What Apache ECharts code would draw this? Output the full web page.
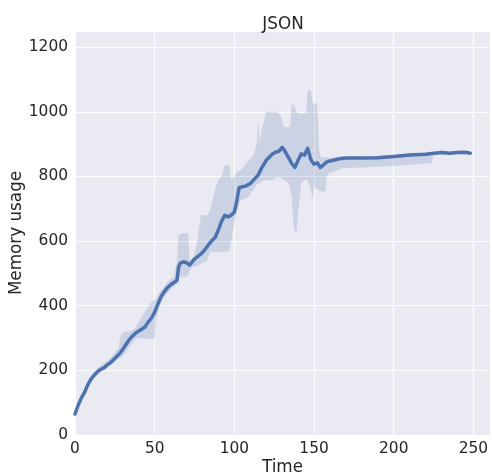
<!DOCTYPE html>
<html>
<head>
<meta charset="utf-8">
<script src="https://cdn.jsdelivr.net/npm/echarts@6/dist/echarts.min.js"></script>
<style>html,body{margin:0;padding:0;background:#fff}#c{width:492px;height:475px}</style>
</head>
<body>
<div id="c"></div>
<script>
// ---- data ----
const titleText = 'JSON';
const xName = 'Time';
const yName = 'Memory usage';
const xTicks = [0, 50, 100, 150, 200, 250];
const yTicks = [0, 200, 400, 600, 800, 1000, 1200];

const meanTime = [0,2,4,6,8,10,12,14,16,17,18,20,22,24,26,28,30,32,34,36,38,39,40,42,44,46,48,50,52,54,56,58,60,62,64,65,66,68,70,72,73,75,77,79,81,84,86,88,90,92,94,96,98,100,101,103,105,107,110,113,115,117,120,122,124,126,128,130,132,134,136,138,139,140,142,144,146,148,150,152,154,156,158,160,163,166,170,180,190,200,210,220,224,225,230,235,240,245,248];
const meanValue = [65,92,115,132,155,172,185,195,203,208,207,216,223,232,242,252,265,280,295,306,315,314,322,328,335,350,362,380,405,428,443,456,465,472,478,520,531,536,533,526,522,545,552,560,570,590,602,612,635,662,680,675,680,690,712,765,768,770,778,794,805,825,850,860,870,875,878,890,876,858,840,828,828,850,870,866,887,852,838,842,828,836,845,848,851,855,857,857,858,862,866,869,871,875,874,872,874,875,872];

const bandTime = [0,3,6,9,12,16,20,24,27,29,30,34,36,38,41,44,47,50,51,53,56,59,62,64,65,67,70,71,72,74,76,79,83,85,88,90,92,94,97,98,100,102,104,106,109,112,114,115,116,117,118,120,124,127,129,131,134,135,136,137,138,139,140,142,144,145,146,148,149,150,152,153,154,157,158,160,163,168,180,190,200,210,220,224,225,230,235,240,245,248];
const bandLow = [58,95,125,160,177,195,208,222,235,240,245,272,285,298,300,298,298,298,360,400,428,445,460,466,490,490,490,495,510,521,521,530,540,567,567,567,567,567,570,600,660,700,727,730,737,760,775,778,780,785,787,788,789,799,795,789,778,760,737,660,629,629,686,778,789,789,789,760,727,768,760,758,755,752,799,812,815,826,828,830,833,836,840,841,875,874,872,874,875,872];
const bandHigh = [72,110,142,178,196,215,228,248,268,312,318,320,325,332,360,382,405,420,422,442,460,478,490,540,619,624,624,624,541,545,580,680,680,700,760,790,800,835,835,790,800,815,820,830,850,865,900,974,900,943,960,1000,1000,1000,990,953,953,953,1026,1020,1016,1000,995,995,995,1000,1067,1067,1026,1026,1026,892,862,858,860,857,860,862,861,862,866,870,873,874,875,874,872,874,875,872];

// ---- chart ----
const chart = echarts.init(document.getElementById('c'), null, {renderer: 'canvas'});
const font = 'DejaVu Sans';
const txt = '#262626';
const meanData = meanTime.map((t, i) => [t, meanValue[i]]);

chart.setOption({
  animation: false,
  backgroundColor: '#ffffff',
  title: {
    text: titleText,
    left: 278,
    textAlign: 'center',
    top: 11,
    textStyle: {fontFamily: font, fontSize: 16.8, fontWeight: 'normal', color: txt}
  },
  grid: {left: 75, right: 2, top: 31, bottom: 40, show: true, backgroundColor: '#eaeaf2', borderWidth: 0,
    containLabel: false, outerBoundsMode: 'none'},
  xAxis: {
    type: 'value', min: 0, max: 260.4, interval: 50,
    name: xName, nameLocation: 'middle', nameGap: 24, nameMoveOverlap: false,
    nameTextStyle: {fontFamily: font, fontSize: 16.8, color: txt, verticalAlign: 'top'},
    axisLine: {show: false}, axisTick: {show: false},
    axisLabel: {fontFamily: font, fontSize: 15.4, color: txt, margin: 6, showMaxLabel: false,
      formatter: v => xTicks.includes(v) ? String(v) : ''},
    splitLine: {show: true, lineStyle: {color: '#ffffff', width: 1}}
  },
  yAxis: {
    type: 'value', min: 0, max: 1250, interval: 200,
    name: yName, nameLocation: 'middle', nameGap: 50, nameMoveOverlap: false,
    nameTextStyle: {fontFamily: font, fontSize: 16.8, color: txt},
    axisLine: {show: false}, axisTick: {show: false},
    axisLabel: {fontFamily: font, fontSize: 15.4, color: txt, margin: 7, showMaxLabel: false,
      formatter: v => yTicks.includes(v) ? String(v) : ''},
    splitLine: {show: true, lineStyle: {color: '#ffffff', width: 1}}
  },
  series: [
    {
      type: 'custom', silent: true, z: 1,
      data: [[0, 0]],
      renderItem: function (params, api) {
        const pts = [];
        for (let i = 0; i < bandTime.length; i++) pts.push(api.coord([bandTime[i], bandHigh[i]]));
        for (let i = bandTime.length - 1; i >= 0; i--) pts.push(api.coord([bandTime[i], bandLow[i]]));
        return {type: 'polygon', shape: {points: pts}, style: {fill: 'rgba(76,114,176,0.2)', stroke: 'none'}};
      }
    },
    {type: 'line', data: meanData, symbol: 'none', z: 3,
      lineStyle: {color: '#4c72b0', width: 3.5, join: 'round', cap: 'round'}}
  ]
});
</script>
</body>
</html>
